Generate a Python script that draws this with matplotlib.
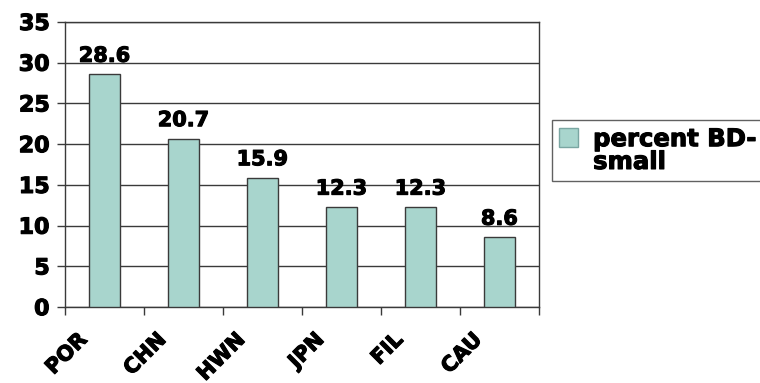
import matplotlib.pyplot as plt
import numpy as np
from matplotlib.patches import Patch
from matplotlib.transforms import ScaledTranslation
import matplotlib.patheffects as pe

groups = ['POR', 'CHN', 'HWN', 'JPN', 'FIL', 'CAU']
pct_bd_small = [28.6, 20.7, 15.9, 12.3, 12.3, 8.6]
value_labels = ['28.6', '20.7', '15.9', '12.3', '12.3', '8.6']
yticks = [0, 5, 10, 15, 20, 25, 30, 35]
legend_lines = ['percent BD-', 'small']

bar_color = '#a8d5cd'
line_color = '#3a3a3a'
heavy = [pe.withStroke(linewidth=0.8, foreground='black')]

plt.rcParams['font.family'] = ['DejaVu Sans']
plt.rcParams['font.weight'] = 'bold'

fig = plt.figure(figsize=(7.6, 3.83), dpi=100)
ax = fig.add_axes([0.0855, 0.198, 0.709 - 0.0855, 0.9426 - 0.198])

x = np.arange(len(groups))
ax.bar(x, pct_bd_small, width=0.4, color=bar_color, edgecolor=line_color,
       linewidth=1.0, zorder=3)

for xi, v, lab in zip(x, pct_bd_small, value_labels):
    ax.annotate(lab, (xi, v), xytext=(0, 6), textcoords='offset points',
                ha='center', va='bottom', fontsize=15, fontweight='bold',
                zorder=4, path_effects=heavy)

ax.set_xlim(-0.5, len(groups) - 0.5)
ax.set_ylim(0, 35)
ax.set_yticks(yticks)
ax.set_yticklabels([str(t) for t in yticks], fontsize=16, fontweight='bold')
for lbl in ax.get_yticklabels():
    lbl.set_path_effects(heavy)
ax.yaxis.grid(True, color=line_color, linewidth=1.0, zorder=0)
ax.set_axisbelow(True)

# category boundaries carry the tick marks, labels sit at the centres
ax.set_xticks(np.arange(len(groups) + 1) - 0.5)
ax.set_xticklabels([])
ax.set_xticks(x, minor=True)
ax.set_xticklabels(groups, minor=True, rotation=45, ha='right', va='top',
                   rotation_mode='anchor', fontsize=15, fontweight='bold')
ax.tick_params(axis='x', which='minor', length=0, pad=16)
ax.tick_params(axis='x', which='major', length=6, width=1, color=line_color, direction='out')
ax.tick_params(axis='y', length=6, width=1, color=line_color, direction='out', pad=5)
offset = ScaledTranslation(-20 / 72, 0, fig.dpi_scale_trans)
for lbl in ax.get_xticklabels(minor=True):
    lbl.set_transform(lbl.get_transform() + offset)
    lbl.set_path_effects(heavy)

for s in ax.spines.values():
    s.set_color(line_color)
    s.set_linewidth(1.0)

handles = [Patch(facecolor=bar_color, edgecolor='#7aa6a2'),
           Patch(facecolor='none', edgecolor='none')]
leg = fig.legend(handles, legend_lines, loc='upper left',
                 bbox_to_anchor=(0.726, 0.687), bbox_transform=fig.transFigure,
                 frameon=True, fancybox=False, borderaxespad=0,
                 prop={'size': 17.5, 'weight': 'bold'},
                 handlelength=0.8, handleheight=0.8, handletextpad=0.6,
                 borderpad=0.3, labelspacing=-0.05)
leg.get_frame().set_edgecolor(line_color)
leg.get_frame().set_linewidth(1.0)
for t in leg.get_texts():
    t.set_path_effects(heavy)

fig.savefig('out.png', dpi=100)
